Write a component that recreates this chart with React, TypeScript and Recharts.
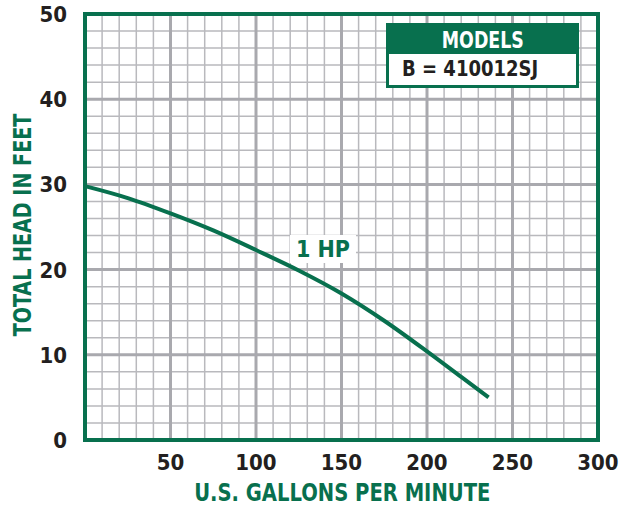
import { LineChart, Line, XAxis, YAxis, CartesianGrid, ReferenceLine } from "recharts";

const gpm = [0, 25, 50, 75, 100, 125, 150, 175, 200, 220, 236];
const head = [29.8, 28.4, 26.6, 24.6, 22.3, 19.9, 17.2, 14.0, 10.4, 7.4, 5.0];

const xMinor = Array.from({ length: 31 }, (_, i) => i * 10);
const yMinor = Array.from({ length: 26 }, (_, i) => i * 2);
const xMajor = [50, 100, 150, 200, 250];
const yMajor = [10, 20, 30, 40];

const GREEN = "#08704e";
const FONT = "'DejaVu Sans Condensed', 'Liberation Sans Narrow', sans-serif";

const data = gpm.map((g, i) => ({ gpm: g, head: head[i] }));

function XTick({ x, y, payload }: any) {
  if (payload.value % 50 !== 0 || payload.value === 0) return null;
  return (
    <text x={x} y={y + 22} textAnchor="middle" fontFamily={FONT} fontWeight={700} fontSize={22} fill="#231f20">
      {payload.value}
    </text>
  );
}

function YTick({ x, y, payload }: any) {
  if (payload.value % 10 !== 0) return null;
  return (
    <text x={x - 10} y={y + 8} textAnchor="end" fontFamily={FONT} fontWeight={700} fontSize={22} fill="#231f20">
      {payload.value}
    </text>
  );
}

const squeeze = (k: number) => ({ display: "inline-block", transform: `scaleX(${k})` });

export default function App() {
  return (
    <div style={{ position: "absolute", left: 0, top: 0, width: 624, height: 508, background: "#fff" }}>
      <LineChart width={624} height={508} data={data} margin={{ top: 14, right: 26, left: 0, bottom: 0 }}>
        <CartesianGrid stroke="#b9b9bd" strokeWidth={1.5} />
        <XAxis
          dataKey="gpm"
          type="number"
          domain={[0, 300]}
          ticks={xMinor}
          tick={<XTick />}
          tickLine={false}
          axisLine={false}
          height={68}
          interval={0}
        />
        <YAxis
          type="number"
          domain={[0, 50]}
          ticks={yMinor}
          tick={<YTick />}
          tickLine={false}
          axisLine={false}
          width={85}
          interval={0}
        />
        {xMajor.map((v) => (
          <ReferenceLine key={"x" + v} x={v} stroke="#a9a9ae" strokeWidth={3} />
        ))}
        {yMajor.map((v) => (
          <ReferenceLine key={"y" + v} y={v} stroke="#a9a9ae" strokeWidth={3} />
        ))}
        <Line
          dataKey="head"
          type="monotone"
          stroke={GREEN}
          strokeWidth={4}
          dot={false}
          isAnimationActive={false}
        />
      </LineChart>

      {/* plot border */}
      <div style={{ position: "absolute", left: 83, top: 12, width: 517, height: 430, border: `4px solid ${GREEN}`, boxSizing: "border-box" }} />

      {/* axis titles */}
      <div style={{ position: "absolute", left: 0, top: 478, width: 684, textAlign: "center", fontFamily: FONT, fontWeight: 700, fontSize: 25, color: GREEN }}>
        <span style={squeeze(0.87)}>U.S. GALLONS PER MINUTE</span>
      </div>
      <div style={{ position: "absolute", left: 23, top: 225, width: 0, height: 0 }}>
        <div style={{ position: "absolute", left: -150, top: -15, width: 300, textAlign: "center", transform: "rotate(-90deg)", fontFamily: FONT, fontWeight: 700, fontSize: 25, color: GREEN, lineHeight: "30px" }}>
          <span style={squeeze(0.85)}>TOTAL HEAD IN FEET</span>
        </div>
      </div>

      {/* curve label */}
      <div style={{ position: "absolute", left: 290, top: 235, width: 66, height: 28, background: "#fff", textAlign: "center", fontFamily: FONT, fontWeight: 700, fontSize: 23, lineHeight: "28px", color: GREEN }}>
        1 HP
      </div>

      {/* models box */}
      <div style={{ position: "absolute", left: 386, top: 23, width: 193, height: 65, border: `3px solid ${GREEN}`, boxSizing: "border-box", background: "#fff", fontFamily: FONT, fontWeight: 700 }}>
        <div style={{ background: GREEN, color: "#fff", height: 28, lineHeight: "28px", textAlign: "center", fontSize: 23 }}>
          <span style={squeeze(0.84)}>MODELS</span>
        </div>
        <div style={{ color: "#231f20", fontSize: 22, lineHeight: "30px", paddingLeft: 13 }}>
          <span style={{ ...squeeze(0.91), transformOrigin: "left center" }}>B = 410012SJ</span>
        </div>
      </div>
    </div>
  );
}
